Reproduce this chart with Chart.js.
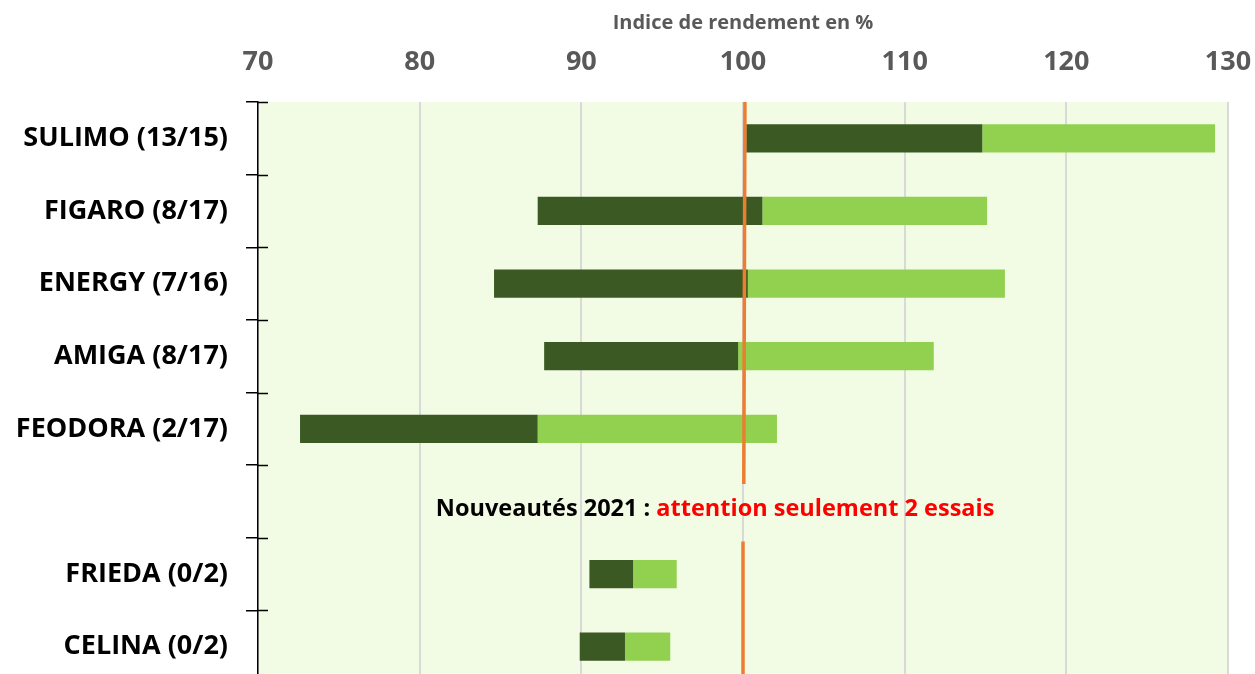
<!DOCTYPE html>
<html>
<head>
<meta charset="utf-8">
<script src="https://cdn.jsdelivr.net/npm/chart.js@4.4.1/dist/chart.umd.min.js"></script>
<style>
  html, body { margin: 0; padding: 0; background: #fff; overflow: hidden; }
  #wrap { width: 1255px; height: 683px; }
</style>
</head>
<body>
<div id="wrap"><canvas id="chart" width="1255" height="683"></canvas></div>
<script>
const varieties = ["SULIMO (13/15)", "FIGARO (8/17)", "ENERGY (7/16)", "AMIGA (8/17)", "FEODORA (2/17)", "", "FRIEDA (0/2)", "CELINA (0/2)"];
const minValues = [100.2, 87.3, 84.6, 87.7, 72.6, null, 90.5, 89.9];
const medianValues = [114.8, 101.2, 100.3, 99.7, 87.3, null, 93.2, 92.7];
const maxValues = [129.2, 115.1, 116.2, 111.8, 102.1, null, 95.9, 95.5];
const xTicks = [70, 80, 90, 100, 110, 120, 130];
const referenceValue = 100;
const noteParts = ["Nouveautés 2021 : ", "attention seulement 2 essais"];

const darkGreen = "#3b5a23";
const lightGreen = "#92d050";
const orange = "#ed7d31";

const lowSpan = minValues.map((v, i) => (v === null ? null : [v, medianValues[i]]));
const highSpan = medianValues.map((v, i) => (v === null ? null : [v, maxValues[i]]));

// reference line, broken around the "Nouveautés" row (y2 runs 0..8 top to bottom)
const refLine = [
  { x: referenceValue + 0.12, y: 0 },
  { x: referenceValue + 0.05, y: 5.26 },
  { x: null, y: null },
  { x: referenceValue, y: 6.05 },
  { x: referenceValue, y: 8 },
];

const plotBackground = {
  id: "plotBackground",
  beforeDraw(chart) {
    const { ctx, chartArea: a } = chart;
    ctx.save();
    ctx.fillStyle = "#f2fce4";
    ctx.fillRect(a.left, a.top, a.right - a.left, a.bottom - a.top);
    ctx.restore();
  },
};

const extras = {
  id: "extras",
  afterDatasetsDraw(chart) {
    const { ctx, chartArea: a, scales } = chart;
    ctx.save();
    // inner half of the category ticks
    ctx.strokeStyle = "#000";
    ctx.lineWidth = 1.5;
    for (let i = 0; i <= varieties.length; i++) {
      const y = Math.round(a.top + (i * (a.bottom - a.top)) / varieties.length) + 0.5;
      ctx.beginPath();
      ctx.moveTo(a.left, y);
      ctx.lineTo(a.left + 10, y);
      ctx.stroke();
    }
    // note in the empty row
    const rowY = scales.y.getPixelForValue(5) + 8;
    ctx.font = "bold 23.5px 'Open Sans', sans-serif";
    ctx.textBaseline = "middle";
    ctx.textAlign = "left";
    let x = scales.x.getPixelForValue(81.0);
    ctx.fillStyle = "#000";
    ctx.fillText(noteParts[0], x, rowY);
    x += ctx.measureText(noteParts[0]).width;
    ctx.fillStyle = "#ff0000";
    ctx.fillText(noteParts[1], x, rowY);
    ctx.restore();
  },
};

new Chart(document.getElementById("chart"), {
  data: {
    labels: varieties,
    datasets: [
      {
        type: "bar",
        label: "min - médiane",
        data: lowSpan,
        indexAxis: "y",
        grouped: false,
        backgroundColor: darkGreen,
        borderWidth: 0,
        borderSkipped: false,
        categoryPercentage: 1,
        barPercentage: 0.39,
        xAxisID: "x",
        yAxisID: "y",
        order: 2,
      },
      {
        type: "bar",
        label: "médiane - max",
        data: highSpan,
        indexAxis: "y",
        grouped: false,
        backgroundColor: lightGreen,
        borderWidth: 0,
        borderSkipped: false,
        categoryPercentage: 1,
        barPercentage: 0.39,
        xAxisID: "x",
        yAxisID: "y",
        order: 2,
      },
      {
        type: "scatter",
        label: "référence",
        data: refLine,
        showLine: true,
        spanGaps: false,
        borderColor: orange,
        borderWidth: 3.5,
        pointRadius: 0,
        xAxisID: "x",
        yAxisID: "y2",
        order: 1,
      },
    ],
  },
  options: {
    responsive: false,
    animation: false,
    layout: { padding: { left: 0, right: 27, top: 0, bottom: 0 } },
    plugins: {
      legend: { display: false },
      tooltip: { enabled: false },
    },
    scales: {
      x: {
        type: "linear",
        position: "top",
        min: 70,
        max: 130,
        afterBuildTicks: (scale) => {
          scale.ticks = xTicks.map((value) => ({ value }));
        },
        afterFit: (scale) => {
          scale.height = 102;
          scale.paddingLeft = 0;
          scale.paddingRight = 0;
        },
        grid: { color: "#d9d9d9", lineWidth: 2, drawTicks: false },
        border: { display: false },
        ticks: {
          color: "#595959",
          padding: 23,
          font: { family: "'Open Sans', sans-serif", size: 27, weight: "bold" },
        },
        title: {
          display: true,
          text: "Indice de rendement en %",
          color: "#595959",
          padding: { top: 11, bottom: 0 },
          font: { family: "'Open Sans', sans-serif", size: 20, weight: "bold" },
        },
      },
      y: {
        type: "category",
        offset: true,
        afterFit: (scale) => {
          scale.width = 258;
          scale.paddingTop = 0;
          scale.paddingBottom = 0;
        },
        grid: {
          offset: true,
          drawOnChartArea: false,
          color: "#000",
          lineWidth: 1.5,
          tickLength: 12,
        },
        border: { display: true, color: "#000", width: 1.5 },
        ticks: {
          color: "#000",
          padding: 18,
          font: { family: "'Open Sans', sans-serif", size: 27, weight: "bold" },
        },
      },
      y2: {
        type: "linear",
        display: false,
        min: 0,
        max: 8,
        reverse: true,
        afterFit: (scale) => {
          scale.paddingTop = 0;
          scale.paddingBottom = 0;
        },
      },
    },
  },
  plugins: [plotBackground, extras],
});
</script>
</body>
</html>
